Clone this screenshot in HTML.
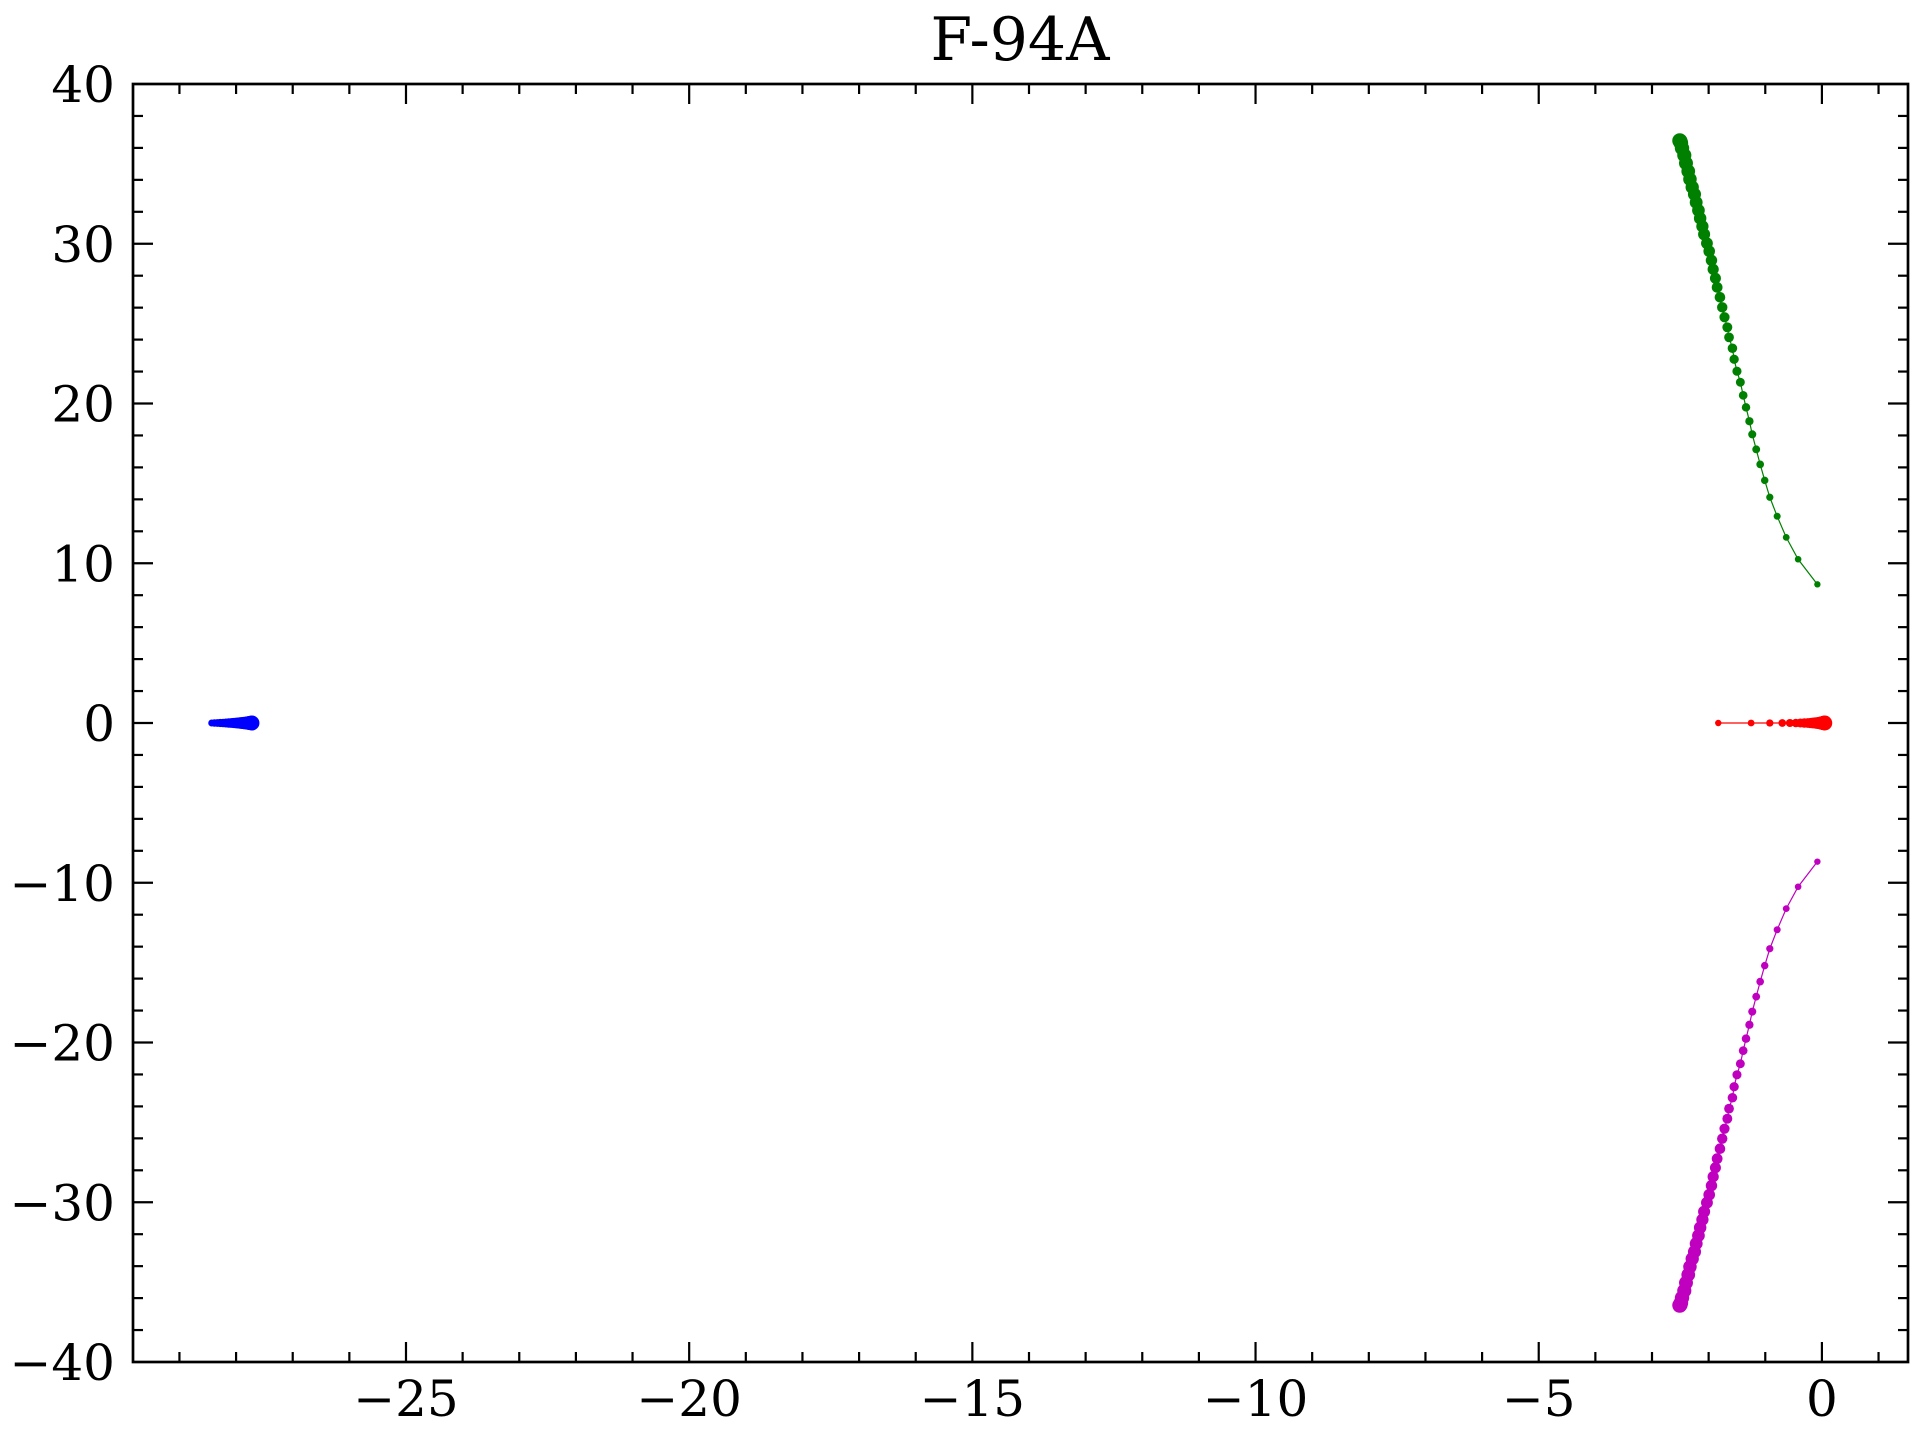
<!DOCTYPE html>
<html><head><meta charset="utf-8"><style>
html,body{margin:0;padding:0;background:#fff;}
svg{display:block;}
text{font-family:"DejaVu Serif","Liberation Serif",serif;fill:#000;}
</style></head><body>
<svg id="chart" width="1920" height="1440" viewBox="0 0 1920 1440" xmlns="http://www.w3.org/2000/svg">
<rect width="1920" height="1440" fill="#fff"/>
<text x="1020" y="60" font-size="60" text-anchor="middle">F-94A</text>
<g id="plot"></g>
</svg>
<script>
const xTicks = [-25, -20, -15, -10, -5, 0];
const yTicks = [-40, -30, -20, -10, 0, 10, 20, 30, 40];
const greenX = [-0.08,-0.42,-0.63,-0.79,-0.92,-1.01,-1.09,-1.16,-1.23,-1.28,-1.34,-1.39,-1.44,-1.50,-1.55,-1.58,-1.64,-1.67,-1.72,-1.76,-1.80,-1.85,-1.88,-1.92,-1.95,-1.99,-2.03,-2.08,-2.11,-2.15,-2.18,-2.22,-2.25,-2.29,-2.33,-2.36,-2.40,-2.43,-2.47,-2.49,-2.50,-2.51];
const greenY = [8.68,10.25,11.62,12.94,14.13,15.19,16.19,17.13,18.07,18.89,19.76,20.51,21.33,22.02,22.77,23.46,24.14,24.77,25.40,26.02,26.65,27.27,27.84,28.40,28.96,29.53,30.03,30.59,31.09,31.59,32.09,32.59,33.10,33.54,34.04,34.54,35.04,35.54,35.98,36.30,36.40,36.45];
const magentaX = [-0.08,-0.42,-0.63,-0.79,-0.92,-1.01,-1.09,-1.16,-1.23,-1.28,-1.34,-1.39,-1.44,-1.50,-1.55,-1.58,-1.64,-1.67,-1.72,-1.76,-1.80,-1.85,-1.88,-1.92,-1.95,-1.99,-2.03,-2.08,-2.11,-2.15,-2.18,-2.22,-2.25,-2.29,-2.33,-2.36,-2.40,-2.43,-2.47,-2.49,-2.50,-2.51];
const magentaY = [-8.68,-10.25,-11.62,-12.94,-14.13,-15.19,-16.19,-17.13,-18.07,-18.89,-19.76,-20.51,-21.33,-22.02,-22.77,-23.46,-24.14,-24.77,-25.40,-26.02,-26.65,-27.27,-27.84,-28.40,-28.96,-29.53,-30.03,-30.59,-31.09,-31.59,-32.09,-32.59,-33.10,-33.54,-34.04,-34.54,-35.04,-35.54,-35.98,-36.30,-36.40,-36.45];
const redX = [-1.83,-1.25,-0.92,-0.70,-0.565,-0.46,-0.38,-0.31,-0.25,-0.20,-0.16,-0.12,-0.09,-0.06,-0.04,-0.02,0.0,0.02,0.03,0.04,0.05];
const redY = [0,0,0,0,0,0,0,0,0,0,0,0,0,0,0,0,0,0,0,0,0];
const blueX = [-28.43,-28.38,-28.33,-28.28,-28.23,-28.18,-28.13,-28.09,-28.05,-28.01,-27.97,-27.93,-27.90,-27.87,-27.84,-27.81,-27.79,-27.77,-27.75,-27.73,-27.72];
const blueY = [0,0,0,0,0,0,0,0,0,0,0,0,0,0,0,0,0,0,0,0,0];

const L=133, R=1908, T=84, B=1362;
const xMin=-29.82, xMax=1.52, yMin=-40, yMax=40;
const sx = v => L + (v - xMin) / (xMax - xMin) * (R - L);
const sy = v => B - (v - yMin) / (yMax - yMin) * (B - T);
const NS='http://www.w3.org/2000/svg';
const plot=document.getElementById('plot');
function mk(tag, attrs, parent){const e=document.createElementNS(NS,tag);for(const k in attrs)e.setAttribute(k,attrs[k]);(parent||plot).appendChild(e);return e;}

function series(xs, ys, color, name, r0, r1){
  const g=mk('g',{});
  
  
  const pts=xs.map((x,i)=>sx(x).toFixed(2)+','+sy(ys[i]).toFixed(2)).join(' ');
  const pl=mk('polyline',{points:pts,fill:'none',stroke:color,'stroke-width':1.2},g);
  
  
  xs.forEach((x,i)=>{
    const r=r0+(r1-r0)*i/Math.max(1,xs.length-1);
    const c=mk('circle',{cx:sx(x),cy:sy(ys[i]),r:r,fill:color},g);
    
    
  });
}
series(greenX, greenY, '#008000', 'green-branch', 3.2, 7.5);
series(magentaX, magentaY, '#bf00bf', 'magenta-branch', 3.2, 7.5);
const origin=mk('circle',{cx:sx(0.02),cy:sy(0),r:7,fill:'#000'});


series(redX, redY, '#ff0000', 'red-branch', 3.2, 7.5);
series(blueX, blueY, '#0000ff', 'blue-branch', 3.5, 7.5);

const frame=mk('rect',{x:L,y:T,width:R-L,height:B-T,fill:'none',stroke:'#000','stroke-width':2.7});



for(let v=-29; v<=1; v++){
  const x=sx(v), maj=xTicks.includes(v), len=maj?20:10;
  const t1=mk('line',{x1:x,x2:x,y1:B,y2:B-len,stroke:'#000','stroke-width':2.2});
  
  
  const t2=mk('line',{x1:x,x2:x,y1:T,y2:T+len,stroke:'#000','stroke-width':2.2});
  
  
}
for(let v=-38; v<=38; v+=2){
  const y=sy(v), maj=yTicks.includes(v), len=maj?20:10;
  const t1=mk('line',{x1:L,x2:L+len,y1:y,y2:y,stroke:'#000','stroke-width':2.2});
  
  
  const t2=mk('line',{x1:R,x2:R-len,y1:y,y2:y,stroke:'#000','stroke-width':2.2});
  
  
}
xTicks.forEach(v=>{
  const t=mk('text',{x:sx(v),y:1416,'font-size':50,'text-anchor':'middle'});
  t.textContent=v<0?'\u2212'+Math.abs(v):String(v);
  
  
});
yTicks.forEach(v=>{
  const t=mk('text',{x:115,y:sy(v)+18,'font-size':50,'text-anchor':'end'});
  t.textContent=v<0?'\u2212'+Math.abs(v):String(v);
  
  
});
</script>
</body></html>
